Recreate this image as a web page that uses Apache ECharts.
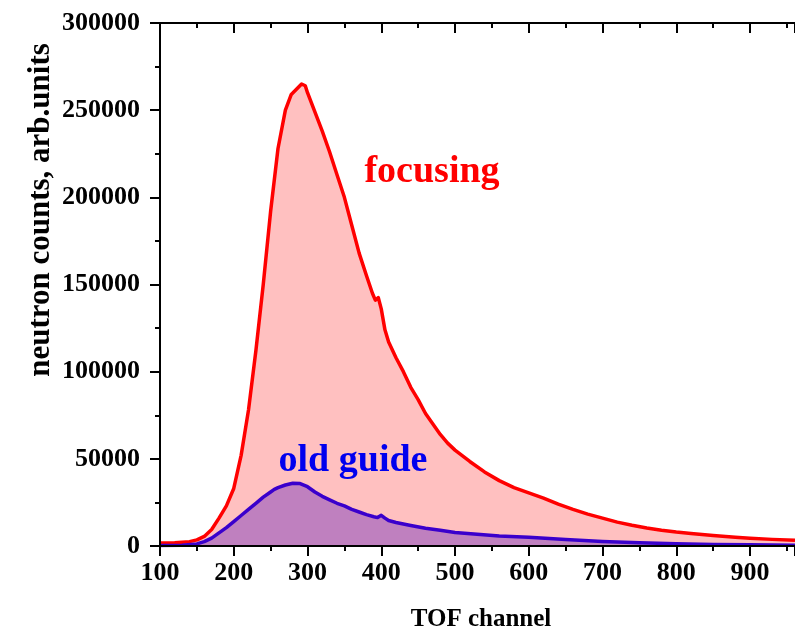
<!DOCTYPE html>
<html>
<head>
<meta charset="utf-8">
<script src="https://cdn.jsdelivr.net/npm/echarts@6/dist/echarts.min.js"></script>
<style>html,body{margin:0;padding:0;background:#fff}#c{width:795px;height:636px}</style>
</head>
<body>
<div id="c"></div>
<script>
// TOF channel values and counts for "focusing"
var focusX = [100,120,140,150,160,170,180,190,200,210,220,230,240,250,260,270,278,285,292,297,300,310,320,330,340,350,360,370,380,388,392,396,400,405,410,420,430,440,450,460,470,480,490,500,520,540,560,580,600,620,640,660,680,700,720,740,760,780,800,820,850,880,900,930,961];
var focusY = [1700,1800,2500,3500,5500,9500,16000,23000,33000,52000,78000,112000,150000,192000,228000,250000,259000,262000,265000,264000,260000,249000,238000,226000,213000,200000,184000,168000,155000,145000,141000,142500,136000,124000,117000,108000,100000,91000,84000,76000,70000,64000,59000,55000,48500,42500,37500,33500,30500,27500,24000,21000,18300,16000,13700,11900,10300,9000,8000,7200,6000,5000,4500,3800,3300];
// TOF channel values and counts for "old guide"
var oldX = [100,130,150,160,170,180,190,200,210,220,230,240,250,255,260,270,280,290,300,310,320,330,340,350,360,370,380,390,395,400,405,410,420,440,460,480,500,530,560,600,650,700,750,800,850,900,961];
var oldY = [300,400,1200,2500,4500,7500,10500,14000,17500,21000,24500,28000,31000,32500,33500,35000,36000,35800,34000,31000,28500,26500,24500,23000,21000,19500,18000,16800,16300,17600,16000,14600,13500,11800,10200,9000,7800,6800,5800,5000,3700,2600,1900,1300,900,700,500];
var yTicks = [0,50000,100000,150000,200000,250000,300000];
var xTicks = [100,200,300,400,500,600,700,800,900];
var seriesNames = ['focusing','old guide'];
var xTitle = 'TOF channel';
var yTitle = 'neutron counts, arb.units';

function pairs(xs, ys){ return xs.map(function(x,i){return [x, ys[i]];}); }

var font = "'Liberation Serif','Times New Roman',serif";
var chart = echarts.init(document.getElementById('c'), null, {renderer:'canvas'});
var axisLineStyle = {color:'#000', width:2};
chart.setOption({
  animation:false,
  grid:{left:160, right:0, top:23, bottom:90},
  xAxis:[{
    type:'value', min:xTicks[0], max:961, interval:100, z:5,
    axisLine:{show:true, onZero:false, lineStyle:axisLineStyle},
    axisTick:{show:true, inside:false, length:10, lineStyle:{color:'#000', width:2}},
    minorTick:{show:true, splitNumber:2, length:5, lineStyle:{color:'#000', width:2}},
    splitLine:{show:false},
    axisLabel:{fontFamily:font, fontWeight:'bold', fontSize:26, color:'#000', margin:14, showMaxLabel:false,
      formatter:function(v){return xTicks.indexOf(v)>=0 ? String(v) : '';}}
  },{
    type:'value', position:'top', min:xTicks[0], max:961, interval:100, z:5,
    axisLine:{show:true, onZero:false, lineStyle:axisLineStyle},
    axisTick:{show:true, inside:true, length:10, lineStyle:{color:'#000', width:2}},
    minorTick:{show:true, splitNumber:2, length:5, lineStyle:{color:'#000', width:2}},
    splitLine:{show:false},
    axisLabel:{show:false}
  }],
  yAxis:{
    type:'value', min:0, max:300000, interval:50000, z:5,
    axisLine:{show:true, onZero:false, lineStyle:axisLineStyle},
    axisTick:{show:true, inside:false, length:10, lineStyle:{color:'#000', width:2}},
    minorTick:{show:true, splitNumber:2, length:5, lineStyle:{color:'#000', width:2}},
    splitLine:{show:false},
    axisLabel:{fontFamily:font, fontWeight:'bold', fontSize:26, color:'#000', margin:20,
      formatter:function(v){return yTicks.indexOf(v)>=0 ? String(v) : '';}}
  },
  series:[{
    name:seriesNames[0], type:'line', data:pairs(focusX, focusY), showSymbol:false, z:2,
    lineStyle:{color:'#ff0000', width:3.5, join:'round'}, areaStyle:{color:'#ffc0c0', opacity:1}
  },{
    name:seriesNames[1], type:'line', data:pairs(oldX, oldY), showSymbol:false, z:3,
    lineStyle:{color:'#3a00cc', width:3.5, join:'round'}, areaStyle:{color:'#bf80bf', opacity:1}
  }],
  graphic:[
    {type:'text', x:41, y:210, rotation:Math.PI/2, z:10,
      style:{text:yTitle, fontFamily:font, fontWeight:'bold', fontSize:31, fill:'#000', align:'center', verticalAlign:'middle'}},
    {type:'text', x:481, y:620, z:10,
      style:{text:xTitle, fontFamily:font, fontWeight:'bold', fontSize:25, fill:'#000', align:'center', verticalAlign:'middle'}},
    {type:'text', x:432, y:172, z:10,
      style:{text:seriesNames[0], fontFamily:font, fontWeight:'bold', fontSize:38, fill:'#ff0000', align:'center', verticalAlign:'middle'}},
    {type:'text', x:353, y:461, z:10,
      style:{text:seriesNames[1], fontFamily:font, fontWeight:'bold', fontSize:38, fill:'#0000ee', align:'center', verticalAlign:'middle'}}
  ]
});
</script>
</body>
</html>
